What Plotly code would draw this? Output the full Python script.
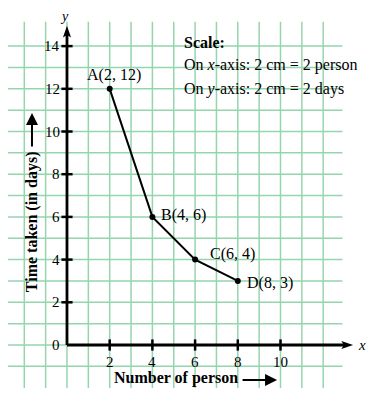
import plotly.graph_objects as go

# Data
labels = ["A", "B", "C", "D"]
persons = [2, 4, 6, 8]
days = [12, 6, 4, 3]

x_ticks = [2, 4, 6, 8, 10]
y_ticks = [0, 2, 4, 6, 8, 10, 12, 14]
x_grid = list(range(-2, 13))
y_grid = list(range(-1, 15))

scale_lines = ["<b>Scale:</b>",
               "On <i>x</i>-axis: 2 cm = 2 person",
               "On <i>y</i>-axis: 2 cm = 2 days"]

FONT = "Liberation Serif, Times New Roman, serif"
GRID = "#95d5ae"
XR = [-2.763, 14.473]
YR = [-3.279, 15.785]
X_END = 13.4   # arrow tip of x-axis
Y_END = 14.95  # arrow tip of y-axis

fig = go.Figure()

# grid
shapes = []
for gx in x_grid:
    shapes.append(dict(type="line", xref="x", yref="y", x0=gx, x1=gx, y0=-2.02, y1=15.14,
                       line=dict(color=GRID, width=1.5), layer="below"))
for gy in y_grid:
    shapes.append(dict(type="line", xref="x", yref="y", x0=-2.76, x1=12.9, y0=gy, y1=gy,
                       line=dict(color=GRID, width=1.5), layer="below"))

# axes (lines + arrow heads)
shapes.append(dict(type="line", xref="x", yref="y", x0=0, x1=X_END - 0.4, y0=0, y1=0,
                   line=dict(color="black", width=2.8)))
shapes.append(dict(type="line", xref="x", yref="y", x0=0, x1=0, y0=0, y1=Y_END - 0.4,
                   line=dict(color="black", width=2.8)))
hw, hl, notch = 0.19, 0.55, 0.12
shapes.append(dict(type="path", xref="x", yref="y",
                   path=(f"M {X_END},0 L {X_END - hl},{hw} L {X_END - hl + notch},0 "
                         f"L {X_END - hl},{-hw} Z"),
                   fillcolor="black", line=dict(width=0)))
shapes.append(dict(type="path", xref="x", yref="y",
                   path=(f"M 0,{Y_END} L {hw},{Y_END - hl} L 0,{Y_END - hl + notch} "
                         f"L {-hw},{Y_END - hl} Z"),
                   fillcolor="black", line=dict(width=0)))

# data line
fig.add_trace(go.Scatter(
    x=persons, y=days, mode="lines+markers",
    line=dict(color="black", width=2),
    marker=dict(color="black", size=6),
    hoverinfo="skip", showlegend=False))

# tick marks
fig.add_trace(go.Scatter(
    x=x_ticks, y=[0] * len(x_ticks), mode="markers",
    marker=dict(symbol="line-ns-open", size=8, color="black",
                line=dict(color="black", width=2.5)),
    hoverinfo="skip", showlegend=False))
yt = [v for v in y_ticks if v != 0]
fig.add_trace(go.Scatter(
    x=[0] * len(yt), y=yt, mode="markers",
    marker=dict(symbol="line-ew-open", size=8, color="black",
                line=dict(color="black", width=2.5)),
    hoverinfo="skip", showlegend=False))

ann = []


def arrow(x, y, ax, ay, width, size):
    return dict(x=x, y=y, ax=ax, ay=ay, xref="x", yref="y", axref="x", ayref="y",
                text="", font=dict(size=1), borderpad=0, showarrow=True,
                arrowhead=2, arrowsize=size, arrowwidth=width, arrowcolor="black")


ann.append(dict(x=13.82, y=0, xref="x", yref="y", text="<i>x</i>", showarrow=False,
                font=dict(family=FONT, size=15, color="black")))
ann.append(dict(x=-0.12, y=YR[1], xref="x", yref="y", text="<i>y</i>", showarrow=False,
                yanchor="top", borderpad=0,
                font=dict(family=FONT, size=14, color="black")))

# tick labels
for v in x_ticks:
    ann.append(dict(x=v, y=0, xref="x", yref="y", text=str(v), showarrow=False,
                    yanchor="top", yshift=-7,
                    font=dict(family=FONT, size=15, color="black")))
for v in y_ticks:
    ann.append(dict(x=0, y=v, xref="x", yref="y", text=str(v), showarrow=False,
                    xanchor="right", xshift=-5,
                    font=dict(family=FONT, size=15, color="black")))

# point labels
offsets = {"A": dict(xanchor="center", yanchor="bottom", xshift=4, yshift=3),
           "B": dict(xanchor="left", yanchor="middle", xshift=7, yshift=2),
           "C": dict(xanchor="left", yanchor="middle", xshift=13, yshift=6),
           "D": dict(xanchor="left", yanchor="middle", xshift=7, yshift=-2)}
for lab, xv, yv in zip(labels, persons, days):
    ann.append(dict(x=xv, y=yv, xref="x", yref="y", text=f"{lab}({xv}, {yv})",
                    showarrow=False, font=dict(family=FONT, size=16, color="black"),
                    **offsets[lab]))

# scale box
for t, yv in zip(scale_lines, [14.15, 13.1, 12.0]):
    ann.append(dict(x=5.4, y=yv, xref="x", yref="y", text=t, showarrow=False,
                    xanchor="left", yanchor="middle",
                    font=dict(family=FONT, size=16, color="black")))

# axis titles with arrows
ann.append(dict(x=5.1, y=-1.55, xref="x", yref="y", text="<b>Number of person</b>",
                showarrow=False, font=dict(family=FONT, size=16, color="black")))
ann.append(arrow(9.84, -1.64, 8.2, -1.64, 2, 1.2))
ann.append(dict(x=-1.64, y=5.8, xref="x", yref="y", text="<b>Time taken (in days)</b>",
                textangle=-90, showarrow=False,
                font=dict(family=FONT, size=16, color="black")))
ann.append(arrow(-1.64, 10.87, -1.64, 9.27, 2, 1.2))

fig.update_layout(
    width=368, height=407,
    margin=dict(l=0, r=0, t=0, b=0, pad=0),
    paper_bgcolor="white", plot_bgcolor="white",
    showlegend=False,
    annotations=ann,
    shapes=shapes,
    xaxis=dict(range=XR, visible=False, fixedrange=True),
    yaxis=dict(range=YR, visible=False, fixedrange=True),
)

fig.write_html("out.html", config={"displayModeBar": False})
